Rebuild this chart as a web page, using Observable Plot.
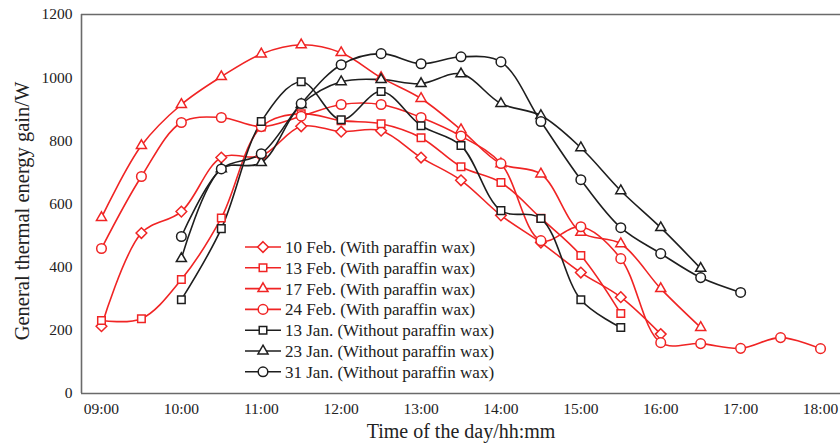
<!DOCTYPE html>
<html>
<head>
<meta charset="utf-8">
<script src="https://cdn.jsdelivr.net/npm/d3@7"></script>
<script src="https://cdn.jsdelivr.net/npm/@observablehq/plot@0.6"></script>
<style>
  html, body { margin: 0; padding: 0; background: #fff; }
  #wrap { position: relative; width: 840px; height: 448px; font-family: "Liberation Serif", "Times New Roman", serif; }
  #legend { position: absolute; left: 0; top: 0; pointer-events: none; }
  svg text { font-family: "Liberation Serif", "Times New Roman", serif !important; }
</style>
</head>
<body>
<div id="wrap"><div id="chart"></div><svg id="legend" width="840" height="448"></svg></div>
<script>
// Series (time in hours, value in W)
const seriesNames = [
  "10 Feb. (With paraffin wax)",
  "13 Feb. (With paraffin wax)",
  "17 Feb. (With paraffin wax)",
  "24 Feb. (With paraffin wax)",
  "13 Jan. (Without paraffin wax)",
  "23 Jan. (Without paraffin wax)",
  "31 Jan. (Without paraffin wax)"
];
const feb10Start = 9,  feb10 = [213,508,576,747,752,846,829,832,747,675,564,478,383,305,188];
const feb13Start = 9,  feb13 = [231,237,361,556,844,886,864,854,810,718,668,555,437,253];
const feb17Start = 9,  feb17 = [557,785,915,1003,1075,1104,1079,1000,934,835,727,695,510,474,332,209];
const feb24Start = 9,  feb24 = [459,687,858,874,845,878,915,915,874,815,728,484,528,427,161,158,143,177,142];
const jan13Start = 10, jan13 = [297,522,861,987,867,956,848,785,579,554,297,209];
const jan23Start = 10, jan23 = [427,711,731,915,987,994,981,1012,918,880,778,642,525,396];
const jan31Start = 10, jan31 = [497,711,759,918,1041,1076,1044,1066,1050,861,677,525,443,367,320];

const xTicks = [9,10,11,12,13,14,15,16,17,18];
const yTicks = [0,200,400,600,800,1000,1200];

const RED = "#f02424", BLACK = "#1e1e1e";
const styles = [
  {color: RED, symbol: "diamond2"},
  {color: RED, symbol: "square2"},
  {color: RED, symbol: "triangle2"},
  {color: RED, symbol: "circle"},
  {color: BLACK, symbol: "square2"},
  {color: BLACK, symbol: "triangle2"},
  {color: BLACK, symbol: "circle"}
];

const raw = [[feb10Start,feb10],[feb13Start,feb13],[feb17Start,feb17],[feb24Start,feb24],
             [jan13Start,jan13],[jan23Start,jan23],[jan31Start,jan31]];
const data = raw.flatMap(([s, vals], i) => vals.map((v, j) => ({series: seriesNames[i], t: s + j*0.5, v})));

const FONT = '"Liberation Serif", "Times New Roman", serif';
const fmt = h => String(h).padStart(2, "0") + ":00";

const marks = [
  Plot.ruleY([0, 1200], {stroke: "#6a6a6a", strokeWidth: 1.6}),
  Plot.ruleX([8.75], {stroke: "#6a6a6a", strokeWidth: 1.6}),
  Plot.axisX({ticks: xTicks, tickFormat: fmt, tickSize: 0, tickPadding: 9, fontSize: 15.5, label: null, fill: "#222", fontFamily: FONT}),
  Plot.axisY({ticks: yTicks, tickFormat: d => String(d), tickSize: 0, tickPadding: 9, fontSize: 15.5, label: null, fill: "#222", fontFamily: FONT}),
  Plot.text(["General thermal energy gain/W"], {frameAnchor: "left", textAnchor: "middle", rotate: -90, dx: -59, dy: 7, fontSize: 20.5, fill: "#222", fontFamily: FONT}),
  Plot.text(["Time of the day/hh:mm"], {frameAnchor: "bottom", dy: 44, fontSize: 20, fill: "#222", fontFamily: FONT})
];
seriesNames.forEach((name, i) => {
  const d = data.filter(r => r.series === name);
  marks.push(Plot.line(d, {x: "t", y: "v", stroke: styles[i].color, strokeWidth: 1.6, curve: "catmull-rom"}));
});
seriesNames.forEach((name, i) => {
  const d = data.filter(r => r.series === name);
  marks.push(Plot.dot(d, {x: "t", y: "v", stroke: styles[i].color, fill: "white", strokeWidth: 1.5, r: 4.8, symbol: () => styles[i].symbol}));
});

const chart = Plot.plot({
  width: 840, height: 448,
  marginLeft: 81, marginRight: 0, marginTop: 14, marginBottom: 55,
  style: {fontFamily: FONT, background: "white", overflow: "visible"},
  x: {domain: [8.75, 18.25]},
  y: {domain: [0, 1200]},
  symbol: {type: "identity"},
  marks
});
document.getElementById("chart").appendChild(chart);

// Legend (drawn with d3)
const lg = d3.select("#legend");
const rowY0 = 247, rowGap = 20.8;
const symMap = {diamond2: d3.symbolDiamond2, square2: d3.symbolSquare2, triangle2: d3.symbolTriangle2, circle: d3.symbolCircle};
seriesNames.forEach((name, i) => {
  const y = rowY0 + i*rowGap;
  const g = lg.append("g").attr("transform", `translate(0,${y})`);
  g.append("line").attr("x1", 245).attr("x2", 281).attr("y1", 0).attr("y2", 0)
    .attr("stroke", styles[i].color).attr("stroke-width", 1.6);
  g.append("path").attr("transform", "translate(263,0)")
    .attr("d", d3.symbol(symMap[styles[i].symbol], Math.PI*4.8*4.8)())
    .attr("fill", "white").attr("stroke", styles[i].color).attr("stroke-width", 1.5);
  g.append("text").attr("x", 285).attr("y", 0).attr("dy", "0.35em")
    .style("font-family", FONT).attr("font-size", 17).attr("fill", "#222").text(name);
});
</script>
</body>
</html>
